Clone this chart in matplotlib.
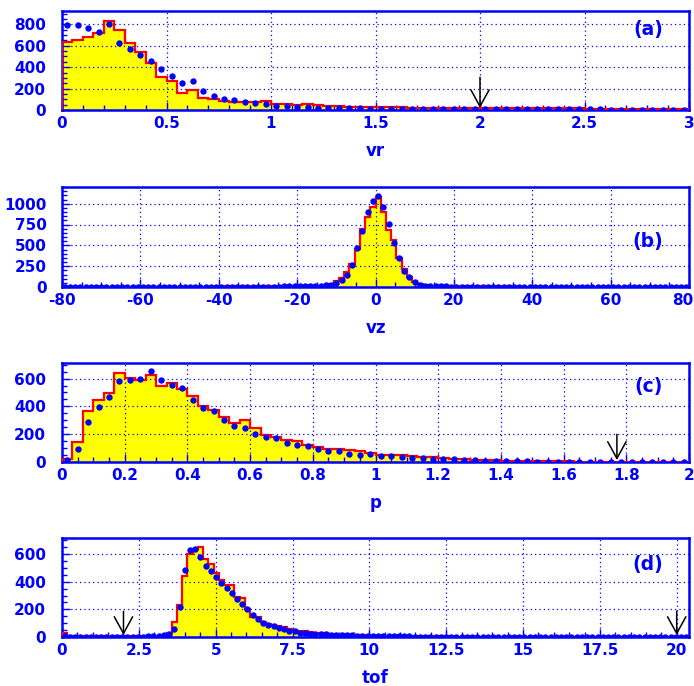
import numpy as np
import matplotlib
matplotlib.use('Agg')
import matplotlib.pyplot as plt
import matplotlib.transforms as mtransforms
from matplotlib.ticker import MultipleLocator, FuncFormatter

BLUE = '#0000ff'
RED = '#ff0000'
YELLOW = '#ffff00'

# --- vr: 60 bins over [0, 3]
vr_hist = [640, 655, 678, 719, 831, 750, 625, 540, 437, 306,
           268, 163, 185, 108, 103, 85, 78, 78, 77, 82,
           55, 52, 45, 58, 48, 42, 41, 28, 30, 27,
           26, 25, 24, 23, 22, 22, 21, 20, 20, 19,
           19, 18, 18, 17, 17, 16, 16, 15, 15, 15,
           14, 14, 13, 13, 13, 12, 12, 12, 11, 11]
vr_data = [790, 790, 762, 731, 803, 628, 572, 516, 456, 384,
           322, 255, 268, 178, 134, 106, 90, 72, 63, 52,
           42, 40, 31, 26, 22, 21, 20, 17, 16, 14,
           13, 12, 12, 11, 11, 10, 10, 9, 9, 8,
           8, 8, 7, 7, 7, 6, 6, 6, 5, 5,
           5, 5, 4, 4, 4, 4, 3, 3, 3, 3]

# --- vz: 120 bins over [-80, 80]
vz_hist = [3, 2, 3, 2, 3, 3, 2, 3, 3, 2,
           3, 3, 4, 3, 3, 4, 3, 4, 3, 4,
           4, 4, 5, 4, 5, 5, 4, 5, 6, 5,
           6, 7, 8, 7, 6, 7, 6, 7, 8, 8,
           8, 9, 9, 10, 10, 11, 12, 13, 15, 18,
           22, 40, 69, 109, 177, 282, 452, 694, 835, 955,
           1077, 900, 680, 560, 350, 215, 120, 65, 35, 22,
           16, 13, 12, 11, 10, 10, 9, 9, 8, 8,
           8, 9, 8, 7, 8, 7, 6, 6, 6, 5,
           5, 5, 4, 5, 4, 4, 4, 3, 4, 3,
           3, 3, 3, 3, 3, 2, 3, 2, 3, 2,
           2, 2, 3, 2, 2, 2, 2, 2, 1, 2]
vz_data = [1, 1, 1, 1, 1, 1, 1, 1, 1, 1,
           1, 1, 2, 1, 1, 2, 1, 2, 1, 2,
           2, 2, 2, 2, 2, 3, 2, 3, 3, 3,
           3, 3, 4, 3, 4, 4, 4, 5, 5, 5,
           6, 6, 7, 7, 8, 9, 10, 11, 13, 16,
           20, 28, 48, 81, 149, 262, 472, 673, 895, 1028,
           1097, 964, 754, 532, 351, 190, 121, 60, 30, 16,
           11, 9, 8, 7, 6, 6, 5, 5, 5, 4,
           4, 4, 4, 4, 3, 3, 3, 3, 3, 3,
           3, 2, 2, 2, 2, 2, 2, 2, 2, 2,
           2, 1, 1, 1, 1, 1, 1, 1, 1, 1,
           1, 1, 1, 1, 1, 1, 1, 1, 1, 1]

# --- p: 60 bins over [0, 2]
p_hist = [24, 141, 369, 449, 498, 639, 602, 588, 627, 547,
          568, 522, 474, 406, 376, 323, 279, 304, 245, 194,
          182, 158, 151, 121, 109, 92, 97, 88, 80, 65,
          50, 48, 52, 40, 36, 33, 27, 25, 22, 16,
          13, 11, 9, 8, 7, 6, 5, 4, 4, 3,
          3, 3, 2, 2, 2, 2, 1, 1, 1, 1]
p_data = [12, 92, 287, 393, 469, 583, 590, 600, 658, 588,
          551, 534, 449, 389, 364, 299, 260, 243, 199, 182,
          170, 136, 121, 114, 90, 80, 78, 61, 51, 56,
          44, 41, 39, 32, 27, 24, 19, 19, 17, 15,
          10, 8, 6, 5, 4, 3, 3, 2, 2, 2,
          1, 1, 1, 1, 1, 1, 1, 1, 0, 0]

# --- tof: 120 bins over [0, 20.4]
tof_hist = [30, 6, 5, 5, 5, 4, 5, 4, 5, 5,
            5, 5, 6, 6, 6, 7, 7, 8, 10, 14,
            32, 106, 230, 440, 600, 637, 654, 563, 526, 464,
            415, 373, 378, 291, 279, 205, 143, 143, 106, 94,
            86, 81, 69, 57, 52, 45, 40, 35, 32, 30,
            28, 25, 22, 20, 18, 16, 14, 12, 11, 10,
            9, 8, 8, 7, 7, 6, 6, 5, 5, 5,
            4, 4, 4, 4, 3, 3, 3, 3, 3, 3,
            3, 3, 2, 2, 2, 2, 2, 2, 2, 2,
            2, 2, 2, 2, 2, 1, 1, 1, 1, 1,
            1, 1, 1, 1, 1, 1, 1, 1, 1, 1,
            1, 1, 1, 1, 1, 1, 1, 1, 1, 1]
tof_data = [10, 2, 2, 2, 2, 2, 2, 2, 2, 2,
            2, 2, 2, 3, 3, 3, 4, 5, 8, 13,
            25, 55, 215, 486, 631, 636, 578, 510, 474, 437,
            394, 358, 316, 275, 239, 200, 161, 132, 103, 86,
            79, 67, 55, 45, 40, 30, 30, 25, 25, 20,
            20, 18, 16, 14, 12, 11, 10, 9, 8, 7,
            6, 6, 5, 5, 4, 4, 4, 3, 3, 3,
            3, 2, 2, 2, 2, 2, 2, 2, 1, 1,
            1, 1, 1, 1, 1, 1, 1, 1, 1, 1,
            1, 0, 1, 0, 1, 0, 0, 1, 0, 0,
            0, 0, 0, 0, 0, 0, 0, 0, 0, 0,
            0, 0, 0, 0, 0, 0, 0, 0, 0, 0]

# cut positions marked with arrows
vr_cuts = [2.0]
vz_cuts = []
p_cuts = [1.77]
tof_cuts = [2.0, 20.0]


def fmt_num(v, pos):
    return f'{v:g}'


def draw_panel(fig, rect, edges, hist, data, cuts, xlabel, tag, tag_y,
               ymax, xmajor, xminor, ymajor, ylabel_pad, cut_len):
    ax = fig.add_axes(rect)
    edges = np.asarray(edges)
    centers = 0.5 * (edges[1:] + edges[:-1])

    ax.stairs(hist, edges, baseline=0, fill=True, color=YELLOW, zorder=1)
    ax.stairs(hist, edges, baseline=0, color=RED, lw=1.6, zorder=3)
    ax.plot(centers, data, 'o', color=BLUE, ms=4.6, mew=0, zorder=4)

    for c in cuts:
        ax.annotate('', xy=(c, 0.02), xytext=(c, cut_len),
                    xycoords=ax.get_xaxis_transform(),
                    arrowprops=dict(arrowstyle='->,head_length=0.6,head_width=0.33',
                                    color='black', lw=1.1, mutation_scale=20,
                                    shrinkA=0, shrinkB=0), zorder=5)

    ax.set_xlim(edges[0], edges[-1])
    ax.set_ylim(0, ymax)
    ax.xaxis.set_major_locator(MultipleLocator(xmajor))
    ax.xaxis.set_minor_locator(MultipleLocator(xminor))
    ax.yaxis.set_major_locator(MultipleLocator(ymajor))
    ax.yaxis.set_minor_locator(MultipleLocator(50))
    ax.xaxis.set_major_formatter(FuncFormatter(fmt_num))

    ax.set_axisbelow(False)
    ax.grid(True, which='major', color=BLUE, ls=(0, (1, 2.5)), lw=0.9)

    for s in ax.spines.values():
        s.set_color(BLUE)
        s.set_linewidth(1.8)
    ax.tick_params(which='both', direction='in', color=BLUE, top=False, right=False)
    ax.tick_params(which='major', length=6, width=1)
    ax.tick_params(which='minor', length=3.5, width=1)
    ax.tick_params(axis='x', which='major', pad=4)
    ax.tick_params(axis='y', which='major', pad=ylabel_pad)
    for lab in ax.get_xticklabels() + ax.get_yticklabels():
        lab.set_color(BLUE)
        lab.set_fontweight('bold')
        lab.set_fontsize(11)

    # nudge a wide label sitting right on the figure edge back inside
    for t in ax.xaxis.get_major_ticks():
        loc = t.get_loc()
        if abs(loc - edges[-1]) < 1e-9 and len(fmt_num(loc, 0)) > 1:
            shift = mtransforms.ScaledTranslation(-6 / 100, 0, fig.dpi_scale_trans)
            t.label1.set_transform(t.label1.get_transform() + shift)

    ax.set_xlabel(xlabel, color=BLUE, fontsize=12, fontweight='bold', labelpad=8)
    ax.text(0.935, tag_y, tag, transform=ax.transAxes, color=BLUE,
            fontsize=13.5, fontweight='bold', ha='center', va='center')
    return ax


def main():
    plt.rcParams['font.family'] = ['DejaVu Sans']
    plt.rcParams['axes.unicode_minus'] = False

    fig = plt.figure(figsize=(6.94, 6.86), dpi=100)
    left, width = 62 / 694, 627 / 694
    h = 99 / 686

    draw_panel(fig, [left, (686 - 110) / 686, width, h],
               np.linspace(0, 3, len(vr_hist) + 1), vr_hist, vr_data, vr_cuts,
               'vr', '(a)', 0.81, 925, 0.5, 0.1, 200, 11.5, 0.33)
    draw_panel(fig, [left, (686 - 287) / 686, width, 100 / 686],
               np.linspace(-80, 80, len(vz_hist) + 1), vz_hist, vz_data, vz_cuts,
               'vz', '(b)', 0.45, 1200, 20, 5, 250, 11, 0.3)
    draw_panel(fig, [left, (686 - 462) / 686, width, h],
               np.linspace(0, 2, len(p_hist) + 1), p_hist, p_data, p_cuts,
               'p', '(c)', 0.76, 712, 0.2, 0.05, 200, 11.5, 0.28)
    draw_panel(fig, [left, (686 - 637) / 686, width, h],
               np.linspace(0, 20.4, len(tof_hist) + 1), tof_hist, tof_data, tof_cuts,
               'tof', '(d)', 0.73, 716, 2.5, 0.5, 200, 11.5, 0.26)

    fig.savefig('out.png', dpi=100)


if __name__ == "__main__":
    main()
